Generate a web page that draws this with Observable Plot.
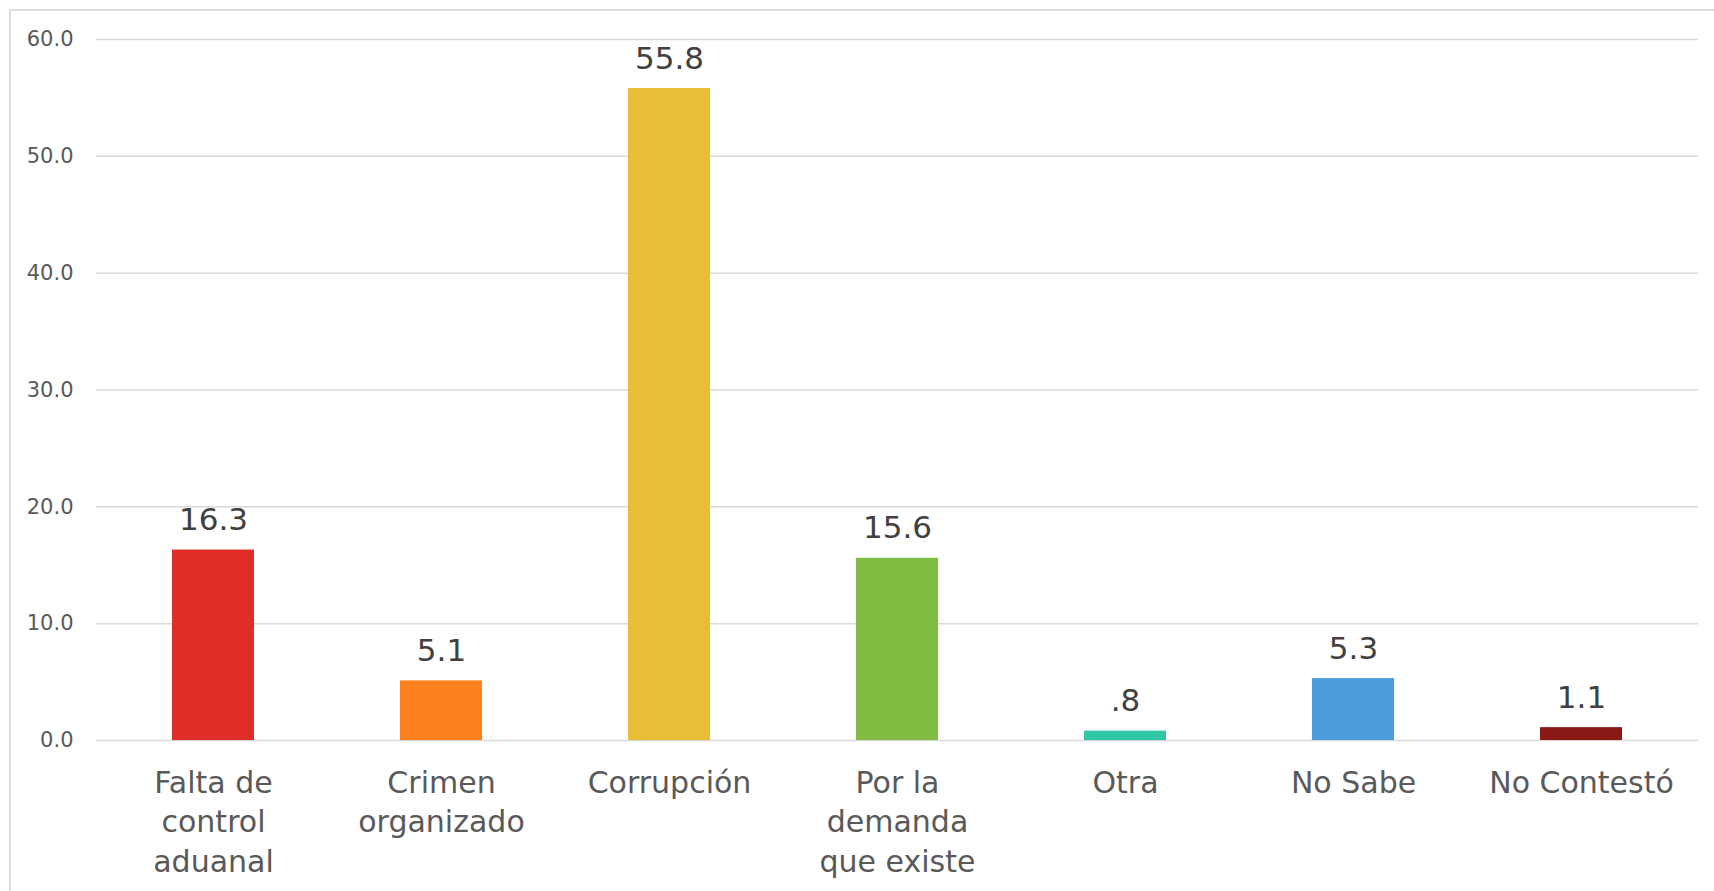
<!DOCTYPE html>
<html>
<head>
<meta charset="utf-8">
<script src="https://cdn.jsdelivr.net/npm/d3@7"></script>
<script src="https://cdn.jsdelivr.net/npm/@observablehq/plot@0.6"></script>
<style>
  html, body { margin: 0; padding: 0; background: #fff; }
  #wrap { position: relative; width: 1714px; height: 891px; overflow: hidden; }
  #frame { position: absolute; left: 9px; top: 9px; right: -10px; bottom: -10px;
           border-left: 2px solid #dcdcdc; border-top: 2px solid #dcdcdc; pointer-events: none; }
  #chart { position: absolute; left: 0; top: 0; }
</style>
</head>
<body>
<div id="wrap"><div id="chart"></div><div id="frame"></div></div>
<script>
const categories = ["Falta de\ncontrol\naduanal", "Crimen\norganizado", "Corrupción", "Por la\ndemanda\nque existe", "Otra", "No Sabe", "No Contestó"];
const values = [16.3, 5.1, 55.8, 15.6, 0.8, 5.3, 1.1];
const colors = ["#df2e28", "#fd801f", "#e8be36", "#80bb42", "#30c7a6", "#4a9cdc", "#8a1815"];
const yTicks = [0, 10, 20, 30, 40, 50, 60];

const data = categories.map((c, i) => ({category: c, value: values[i], color: colors[i]}));
const fmtVal = v => d3.format(".1f")(v).replace(/^0\./, ".");

const chart = Plot.plot({
  width: 1714,
  height: 891,
  marginLeft: 96,
  marginRight: 16,
  marginTop: 39,
  marginBottom: 151,
  style: {fontFamily: "'DejaVu Sans', sans-serif", background: "transparent", overflow: "visible"},
  x: {domain: categories, paddingInner: 0.64, paddingOuter: 0.32, label: null},
  y: {domain: [0, 60], label: null},
  marks: [
    Plot.gridY(yTicks, {stroke: "#d9d9d9", strokeOpacity: 1, strokeWidth: 1.5}),
    Plot.axisY(yTicks, {tickSize: 0, tickPadding: 23, fontSize: 21, fill: "#595959", tickFormat: d3.format(".1f"), label: null}),
    Plot.barY(data, {x: "category", y: "value", fill: "color"}),
    Plot.text(data, {x: "category", y: "value", text: d => fmtVal(d.value), lineAnchor: "bottom", dy: -20, fontSize: 31, fill: "#404040"}),
    Plot.axisX({tickSize: 0, tickPadding: 24, fontSize: 30, lineHeight: 1.32, fill: "#595959", label: null})
  ]
});
document.getElementById("chart").append(chart);
</script>
</body>
</html>
